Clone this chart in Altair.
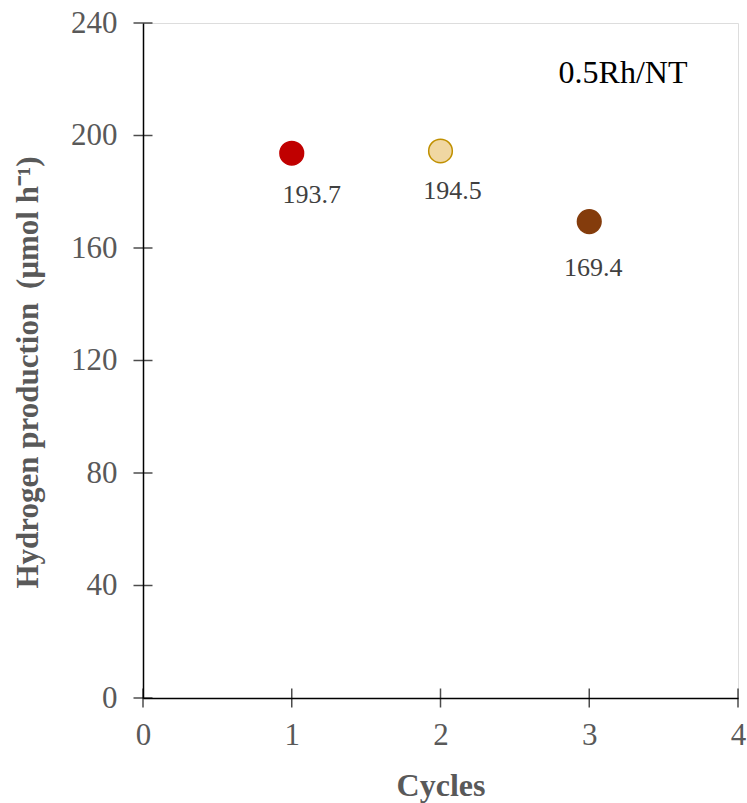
import altair as alt
import pandas as pd

cycles = [1, 2, 3]
hydrogen = [193.7, 194.5, 169.4]
value_labels = ["193.7", "194.5", "169.4"]
fill_colors = ["#C00000", "#F0D7A2", "#843C0C"]
stroke_colors = ["#C00000", "#C09000", "#843C0C"]
x_ticks = [0, 1, 2, 3, 4]
y_ticks = [0, 40, 80, 120, 160, 200, 240]
sample_name = "0.5Rh/NT"

df = pd.DataFrame({"cycle": cycles, "h2": hydrogen, "label": value_labels})
xt = pd.DataFrame({"v": x_ticks})
yt = pd.DataFrame({"v": y_ticks})

serif = "Liberation Serif"
gray = "#595959"

xscale = alt.Scale(domain=[0, 4], nice=False, zero=False)
yscale = alt.Scale(domain=[0, 240], nice=False, zero=False)

base = alt.Chart(df)

points = base.mark_point(filled=True, size=560, opacity=1, strokeWidth=1.5).encode(
    x=alt.X("cycle:Q", scale=xscale,
            axis=alt.Axis(title="Cycles", values=x_ticks, format="d", ticks=False, labelPadding=22,
                          labelFlush=False, labelOverlap=False,
                          labelFontSize=31, labelFont=serif, labelColor=gray,
                          titleFont=serif, titleFontSize=32, titleFontWeight="bold",
                          titleColor=gray, titlePadding=20, grid=False,
                          domainColor="black", domainWidth=1.5)),
    y=alt.Y("h2:Q", scale=yscale,
            axis=alt.Axis(title="Hydrogen production \u2009(μmol h⁻¹)", values=y_ticks, format="d",
                          ticks=False, labelPadding=26, labelFontSize=31, labelFont=serif,
                          labelFlush=False, labelOverlap=False,
                          labelColor=gray, titleFont=serif, titleFontSize=31, titleFontWeight="bold",
                          titleColor=gray, titlePadding=26, titleY=349, grid=False,
                          domainColor="black", domainWidth=1.5)),
    fill=alt.Color("cycle:N", scale=alt.Scale(domain=cycles, range=fill_colors), legend=None),
    stroke=alt.Stroke("cycle:N", scale=alt.Scale(domain=cycles, range=stroke_colors), legend=None),
)

offsets = [(20, 42), (12, 40), (4, 46)]
label_layers = []
for i, (dx, dy) in enumerate(offsets):
    label_layers.append(
        alt.Chart(df.iloc[[i]]).mark_text(font=serif, fontSize=26, color="#404040",
                                          dx=dx, dy=dy, baseline="middle", align="center").encode(
            x=alt.X("cycle:Q", scale=xscale),
            y=alt.Y("h2:Q", scale=yscale),
            text="label:N",
        )
    )

xticks_layer = alt.Chart(xt).mark_tick(orient="vertical", size=19, thickness=1.5, color="black").encode(
    x=alt.X("v:Q", scale=xscale),
    y=alt.Y(datum=0, scale=yscale),
)
yticks_layer = alt.Chart(yt).mark_tick(orient="horizontal", size=19, thickness=1.5, color="black").encode(
    y=alt.Y("v:Q", scale=yscale),
    x=alt.X(datum=0, scale=xscale),
)

name_text = alt.Chart(pd.DataFrame({"t": [sample_name]})).mark_text(
    font=serif, fontSize=32, color="black", align="center", baseline="middle"
).encode(x=alt.value(480), y=alt.value(50), text="t:N")

chart = alt.layer(points, *label_layers, xticks_layer, yticks_layer, name_text).properties(
    width=595, height=675,
    autosize=alt.AutoSizeParams(type="none"),
    padding={"left": 143, "top": 23, "right": 9, "bottom": 105},
).configure_view(stroke="black", strokeWidth=1.5).configure(background="white")

chart.save("out.html", embed_options={"renderer": "svg", "actions": False})
